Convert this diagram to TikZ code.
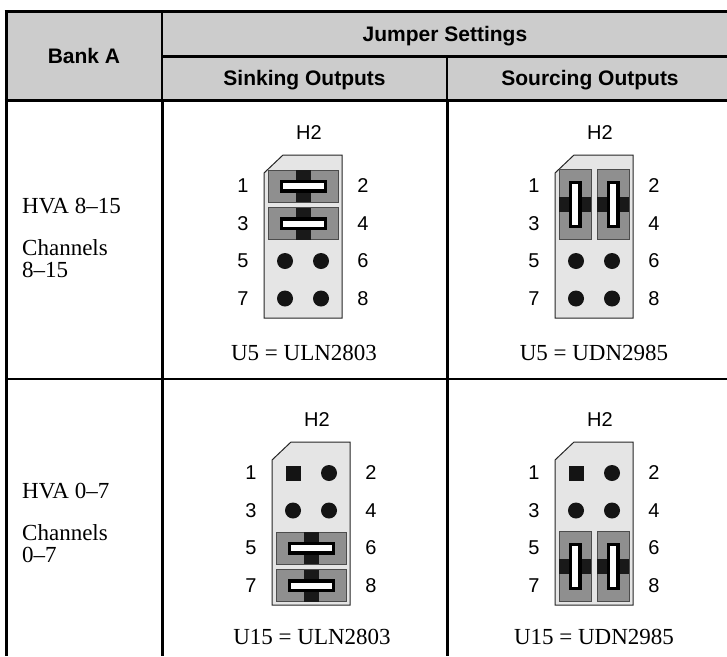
\documentclass[tikz,border=0pt]{standalone}
\usepackage{fontspec}
\setmainfont{Liberation Serif}
\setsansfont{Liberation Sans}
\usepackage{xcolor}
\usepackage{tikz}
\usetikzlibrary{positioning}
\definecolor{hdrgray}{gray}{0.8}
\definecolor{boardgray}{gray}{0.9}
\definecolor{capgray}{gray}{0.56}
\definecolor{capedge}{gray}{0.3}
\tikzset{
  pinnum/.style={font=\sffamily\fontsize{20}{20}\selectfont, inner sep=0pt},
  hdrtext/.style={font=\sffamily\bfseries\fontsize{21}{21}\selectfont, inner sep=0pt, anchor=base},
  celltext/.style={font=\fontsize{23}{22}\selectfont, inner sep=0pt, anchor=base west},
  chiptext/.style={font=\fontsize{23}{23}\selectfont, inner sep=0pt, anchor=base},
  thickrule/.style={line width=3pt},
  thinrule/.style={line width=1.2pt},
  pics/board/.style={code={
    \draw[fill=boardgray, draw=black!85, line width=1pt] (19,0) -- (78,0) -- (78,163) -- (0,163) -- (0,18) -- cycle;
  }},
  pics/jumper/.style={code={
    \draw[fill=capgray, draw=capedge, line width=0.8pt] (-35,-16) rectangle (35,16);
    \fill[black!90] (-7.5,-16) rectangle (7.5,16);
    \fill[black] (-23.5,-6.5) rectangle (23.5,6.5);
    \fill[white] (-20.5,-3) rectangle (20.5,3);
  }},
  pics/dot/.style={code={\fill[black!92] (0,0) circle[radius=8pt];}},
  pics/sqpin/.style={code={\fill[black!92] (-7.5,-7.5) rectangle (7.5,7.5);}}
}

\begin{document}
\begin{tikzpicture}[x=1pt, y=-1pt]
  \useasboundingbox (0,0) rectangle (727,656);
  % header
  \fill[hdrgray] (6,11.5) rectangle (727,100);
  \node[hdrtext] (bank) at (84,63.5) {Bank A};
  \node[hdrtext] (jumpers) at (445,41.5) {Jumper Settings};
  \node[hdrtext] (sinking) at (304.5,85.5) {Sinking Outputs};
  \node[hdrtext] (sourcing) at (590,85.5) {Sourcing Outputs};

  % left column
  \node[celltext] (hvaA) at (22,213) {HVA 8–15};
  \node[celltext] (chanA) at (22,255) {Channels};
  \node[celltext] (rangeA) at (22,277) {8–15};
  \node[celltext] (hvaB) at (22,498) {HVA 0–7};
  \node[celltext] (chanB) at (22,540) {Channels};
  \node[celltext] (rangeB) at (22,562) {0–7};

  % the four H2 headers
  \foreach \bx/\by/\name in {264/155/sinkA, 555/155/srcA, 272/442/sinkB, 555/442/srcB} {
    \pic at (\bx,\by) {board};
    \node[pinnum] (\name-h) at ({\bx+45},{\by-22}) {H2};
    \foreach \r [count=\i] in {31,68.5,106,143.5} {
      \pgfmathtruncatemacro\podd{2*\i-1}
      \pgfmathtruncatemacro\peven{2*\i}
      \node[pinnum] (\name-p\podd) at ({\bx-21},{\by+\r}) {\podd};
      \node[pinnum] (\name-p\peven) at ({\bx+99},{\by+\r}) {\peven};
    }
  }

  \begin{scope}[shift={(264,155)}]
    \pic at (39,31) {jumper};
    \pic at (39,68.5) {jumper};
    \foreach \r in {106,143.5} \foreach \c in {21,57} \pic at (\c,\r) {dot};
  \end{scope}
  \begin{scope}[shift={(555,155)}]
    \pic[rotate=90] at (20,49.75) {jumper};
    \pic[rotate=90] at (58,49.75) {jumper};
    \foreach \r in {106,143.5} \foreach \c in {21,57} \pic at (\c,\r) {dot};
  \end{scope}
  \begin{scope}[shift={(272,442)}]
    \pic at (21,31) {sqpin};
    \pic at (57,31) {dot};
    \foreach \c in {21,57} \pic at (\c,68.5) {dot};
    \pic at (39,106) {jumper};
    \pic at (39,143.5) {jumper};
  \end{scope}
  \begin{scope}[shift={(555,442)}]
    \pic at (21,31) {sqpin};
    \pic at (57,31) {dot};
    \foreach \c in {21,57} \pic at (\c,68.5) {dot};
    \pic[rotate=90] at (20,124.75) {jumper};
    \pic[rotate=90] at (58,124.75) {jumper};
  \end{scope}

  \node[chiptext] (chipA1) at (304,360) {U5 = ULN2803};
  \node[chiptext] (chipA2) at (594,360) {U5 = UDN2985};
  \node[chiptext] (chipB1) at (312,644) {U15 = ULN2803};
  \node[chiptext] (chipB2) at (594,644) {U15 = UDN2985};

  % rules
  \draw[thickrule] (4.5,11.5) -- (727,11.5);
  \draw[thickrule] (162,56) -- (727,56);
  \draw[thickrule] (4.5,100) -- (727,100);
  \draw[thinrule] (6,379) -- (727,379);
  \draw[thickrule] (6,10) -- (6,656);
  \draw[thinrule] (162,11.5) -- (162,100);
  \draw[thinrule] (447,56) -- (447,100);
  \draw[thickrule] (162,100) -- (162,656);
  \draw[thickrule] (447,100) -- (447,656);
\end{tikzpicture}
\end{document}
